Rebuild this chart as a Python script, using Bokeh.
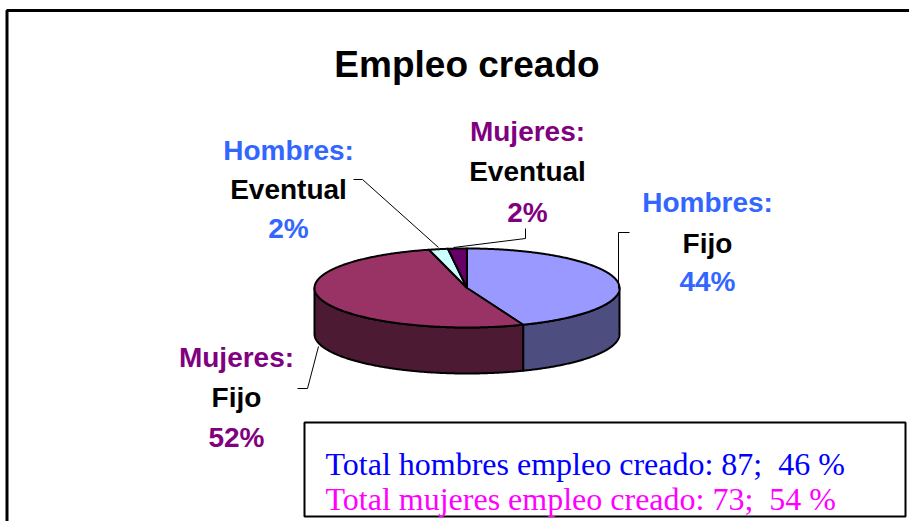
import numpy as np
from bokeh.plotting import figure
from bokeh.models import Range1d
from bokeh.core.properties import value
from bokeh.embed import file_html
from bokeh.resources import INLINE

# ---------------- data ----------------
title = "Empleo creado"
sex_labels = ["Hombres:", "Mujeres:", "Hombres:", "Mujeres:"]
kind_labels = ["Fijo", "Fijo", "Eventual", "Eventual"]
shares = [44, 52, 2, 2]
total_men = 87
pct_men = 46
total_women = 73
pct_women = 54

# ---------------- styles ----------------
top_colors = ["#9999FF", "#993366", "#CCFFFF", "#660066"]
side_colors = ["#4D4D80", "#4D1A33", "#668080", "#330033"]
sex_colors = ["#3366FF", "#800080", "#3366FF", "#800080"]

# label layout: center x, baselines of the 3 lines
label_x = [707, 236, 288, 527]
label_y = [(202, 243, 281), (357, 397, 437), (150, 189, 228), (131, 171, 212)]
leaders = [
    ([618, 618, 629], [288, 232, 232]),
    ([318, 307, 297], [346, 388, 388]),
    ([438, 362, 353], [247, 179, 179]),
    ([453, 525, 525], [247, 238, 228]),
]

W, H = 909, 521
p = figure(width=W, height=H, x_range=Range1d(0, W), y_range=Range1d(H, 0),
           output_backend="svg", toolbar_location=None, min_border=0)
p.axis.visible = False
p.grid.visible = False
p.outline_line_color = None
p.background_fill_color = "white"
p.border_fill_color = "white"

# outer chart border (left and top visible)
p.line([6.5, 6.5, 930], [540, 10, 10], line_color="black", line_width=3)

# ---------------- 3D pie ----------------
cx, cy, rx, ry, depth = 466.5, 287.5, 152.5, 39.5, 46.0
cum = np.concatenate([[0], np.cumsum(shares)]) / float(sum(shares))
starts = 90 - 360 * cum[:-1]
ends = 90 - 360 * cum[1:]


def arc(a0, a1, n=None):
    if n is None:
        n = max(4, int(abs(a1 - a0) * 2))
    t = np.radians(np.linspace(a0, a1, n))
    return cx + rx * np.cos(t), cy - ry * np.sin(t)


# sides (front half: math angle in [-180, 0] or [-540, -360])
for i in range(len(shares)):
    lo, hi = ends[i], starts[i]
    for (fa, fb) in [(-180, 0), (-540, -360)]:
        a, b = max(lo, fa), min(hi, fb)
        if b - a > 0.01:
            xs, ys = arc(a, b)
            px = np.concatenate([xs, xs[::-1]])
            py = np.concatenate([ys, ys[::-1] + depth])
            p.patch(px, py, fill_color=side_colors[i], line_color="black",
                    line_width=2, line_join="round")

# tops
for i in range(len(shares)):
    xs, ys = arc(ends[i], starts[i])
    px = np.concatenate([[cx], xs])
    py = np.concatenate([[cy], ys])
    p.patch(px, py, fill_color=top_colors[i], line_color="black",
            line_width=2, line_join="round")

# leader lines
for lx, ly in leaders:
    p.line(lx, ly, line_color="black", line_width=1)

# labels
font = value("Liberation Sans")
for i in range(len(shares)):
    x = label_x[i]
    y1, y2, y3 = label_y[i]
    p.text([x], [y1], text=[sex_labels[i]], text_color=sex_colors[i],
           text_font=font, text_font_style="bold", text_font_size="28px",
           text_align="center", text_baseline="alphabetic")
    p.text([x], [y2], text=[kind_labels[i]], text_color="black",
           text_font=font, text_font_style="bold", text_font_size="28px",
           text_align="center", text_baseline="alphabetic")
    p.text([x], [y3], text=["%d%%" % shares[i]], text_color=sex_colors[i],
           text_font=font, text_font_style="bold", text_font_size="28px",
           text_align="center", text_baseline="alphabetic")

# title
p.text([466.5], [64], text=[title], text_color="black", text_font=font,
       text_font_style="bold", text_font_size="37px", text_align="center",
       text_baseline="alphabetic")

# totals box
p.quad(left=[304], right=[905], top=[422], bottom=[516], fill_color="white",
       line_color="black", line_width=2)
serif = value("Liberation Serif")
p.text([325], [463], text=["Total hombres empleo creado: %d;\u00a0 %d %%" % (total_men, pct_men)],
       text_color="#0000FF", text_font=serif, text_font_size="32px",
       text_align="left", text_baseline="alphabetic")
p.text([325], [498], text=["Total mujeres empleo creado: %d;\u00a0 %d %%" % (total_women, pct_women)],
       text_color="#FF00FF", text_font=serif, text_font_size="32px",
       text_align="left", text_baseline="alphabetic")

open("out.html", "w").write(file_html(p, INLINE))
